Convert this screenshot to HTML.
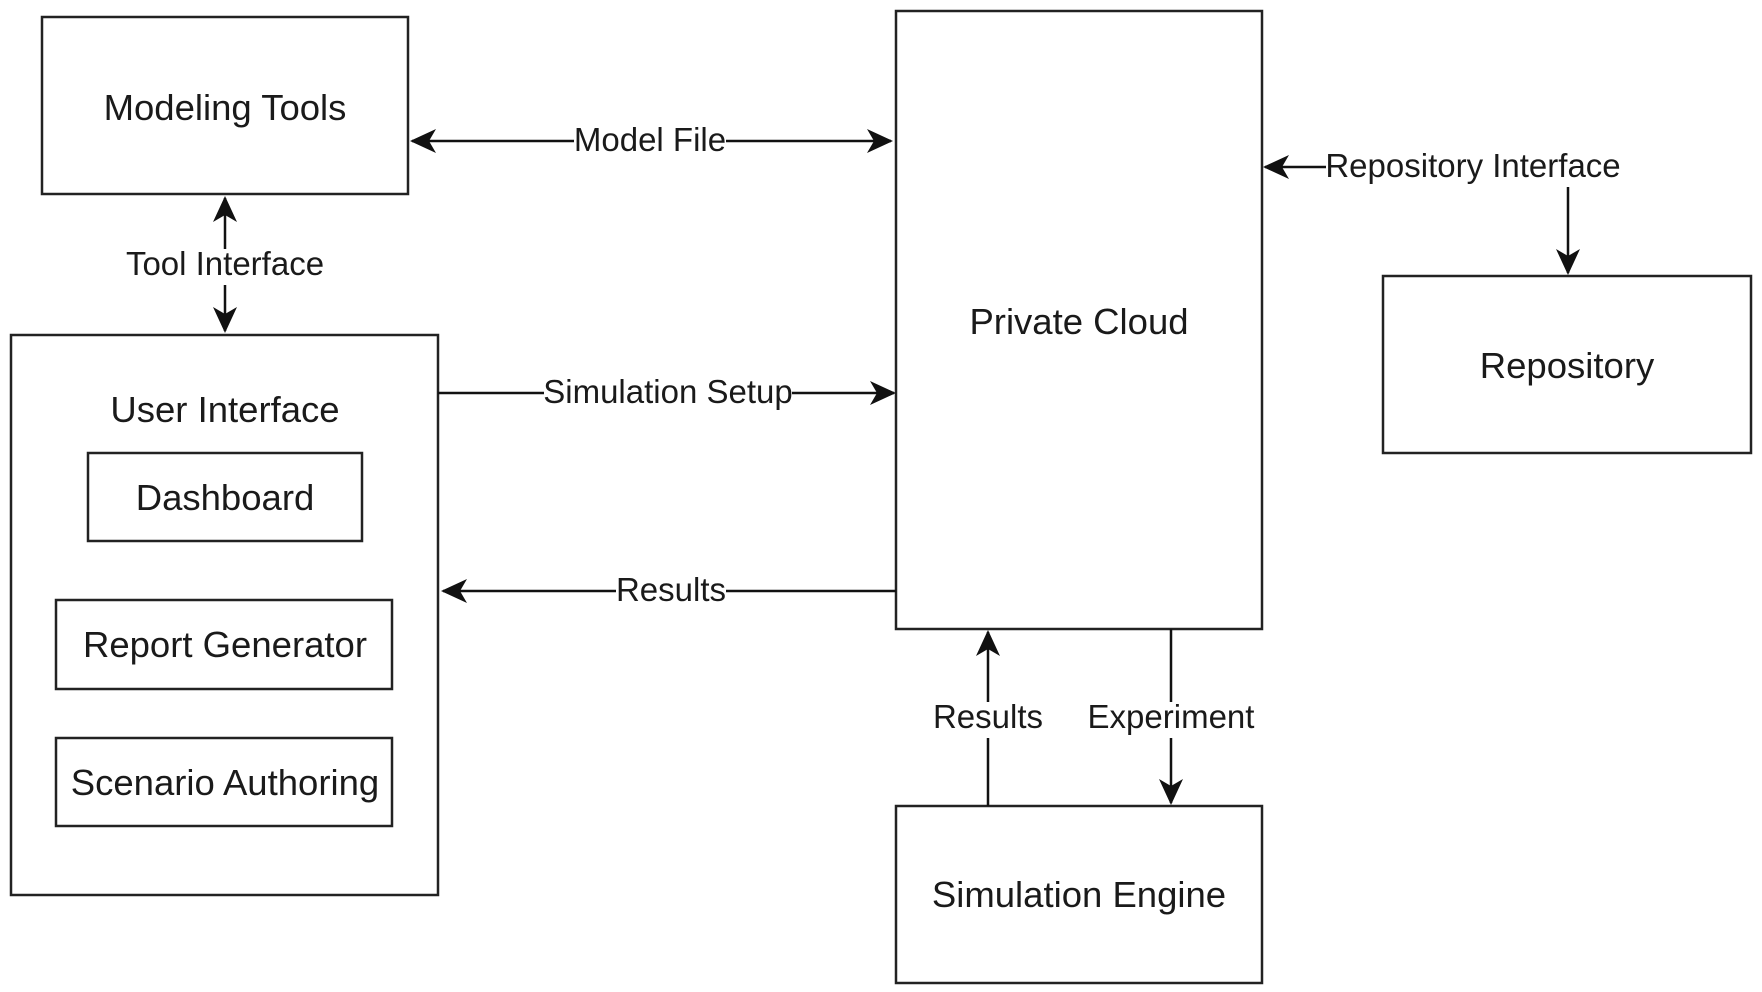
<!DOCTYPE html>
<html><head><meta charset="utf-8"><style>
body{margin:0;background:#fff}
svg{display:block}
text{font-family:"Liberation Sans",sans-serif;fill:#1a1a1a}
.b{font-size:36.5px}
.e{font-size:33px}
</style></head><body>
<svg width="1762" height="992" viewBox="0 0 1762 992" xmlns="http://www.w3.org/2000/svg">
<defs>
<marker id="a2" markerWidth="26" markerHeight="24" refX="24" refY="12" orient="auto-start-reverse" markerUnits="userSpaceOnUse"><path d="M0,0 L26,12 L0,24 L7,12 Z" fill="#111"/></marker></defs>
<g fill="none" stroke="#222" stroke-width="2.5">
<rect x="42" y="17" width="366" height="177"/>
<rect x="896" y="11" width="366" height="618"/>
<rect x="1383" y="276" width="368" height="177"/>
<rect x="11" y="335" width="427" height="560"/>
<rect x="88" y="453" width="274" height="88"/>
<rect x="56" y="600" width="336" height="89"/>
<rect x="56" y="738" width="336" height="88"/>
<rect x="896" y="806" width="366" height="177"/>
</g>
<g stroke="#111" stroke-width="2.5" fill="none">
<line x1="412" y1="141" x2="891" y2="141" marker-start="url(#a2)" marker-end="url(#a2)"/>
<line x1="225" y1="198" x2="225" y2="331" marker-start="url(#a2)" marker-end="url(#a2)"/>
<line x1="438" y1="393" x2="894" y2="393" marker-end="url(#a2)"/>
<line x1="896" y1="591" x2="443" y2="591" marker-end="url(#a2)"/>
<line x1="988" y1="806" x2="988" y2="632" marker-end="url(#a2)"/>
<line x1="1171" y1="629" x2="1171" y2="803" marker-end="url(#a2)"/>
<polyline points="1568,188 1568,167 1265,167" marker-end="url(#a2)"/>
<line x1="1568" y1="188" x2="1568" y2="273" marker-end="url(#a2)"/>
</g>
<g fill="#fff">
<rect x="574" y="125" width="152" height="34"/>
<rect x="126" y="249" width="198" height="36"/>
<rect x="544" y="377" width="248" height="34"/>
<rect x="616" y="575" width="110" height="34"/>
<rect x="934" y="702" width="109" height="36"/>
<rect x="1088" y="702" width="166" height="36"/>
<rect x="1326" y="151" width="294" height="36"/>
</g>
<g class="e" text-anchor="middle">
<text x="650" y="151">Model File</text>
<text x="225" y="275">Tool Interface</text>
<text x="668" y="403">Simulation Setup</text>
<text x="671" y="601">Results</text>
<text x="988" y="728">Results</text>
<text x="1171" y="728">Experiment</text>
<text x="1473" y="177">Repository Interface</text>
</g>
<g class="b" text-anchor="middle">
<text x="225" y="120">Modeling Tools</text>
<text x="1079" y="334">Private Cloud</text>
<text x="1567" y="378">Repository</text>
<text x="225" y="422">User Interface</text>
<text x="225" y="510">Dashboard</text>
<text x="225" y="657">Report Generator</text>
<text x="225" y="795">Scenario Authoring</text>
<text x="1079" y="907">Simulation Engine</text>
</g>
</svg>
</body></html>
